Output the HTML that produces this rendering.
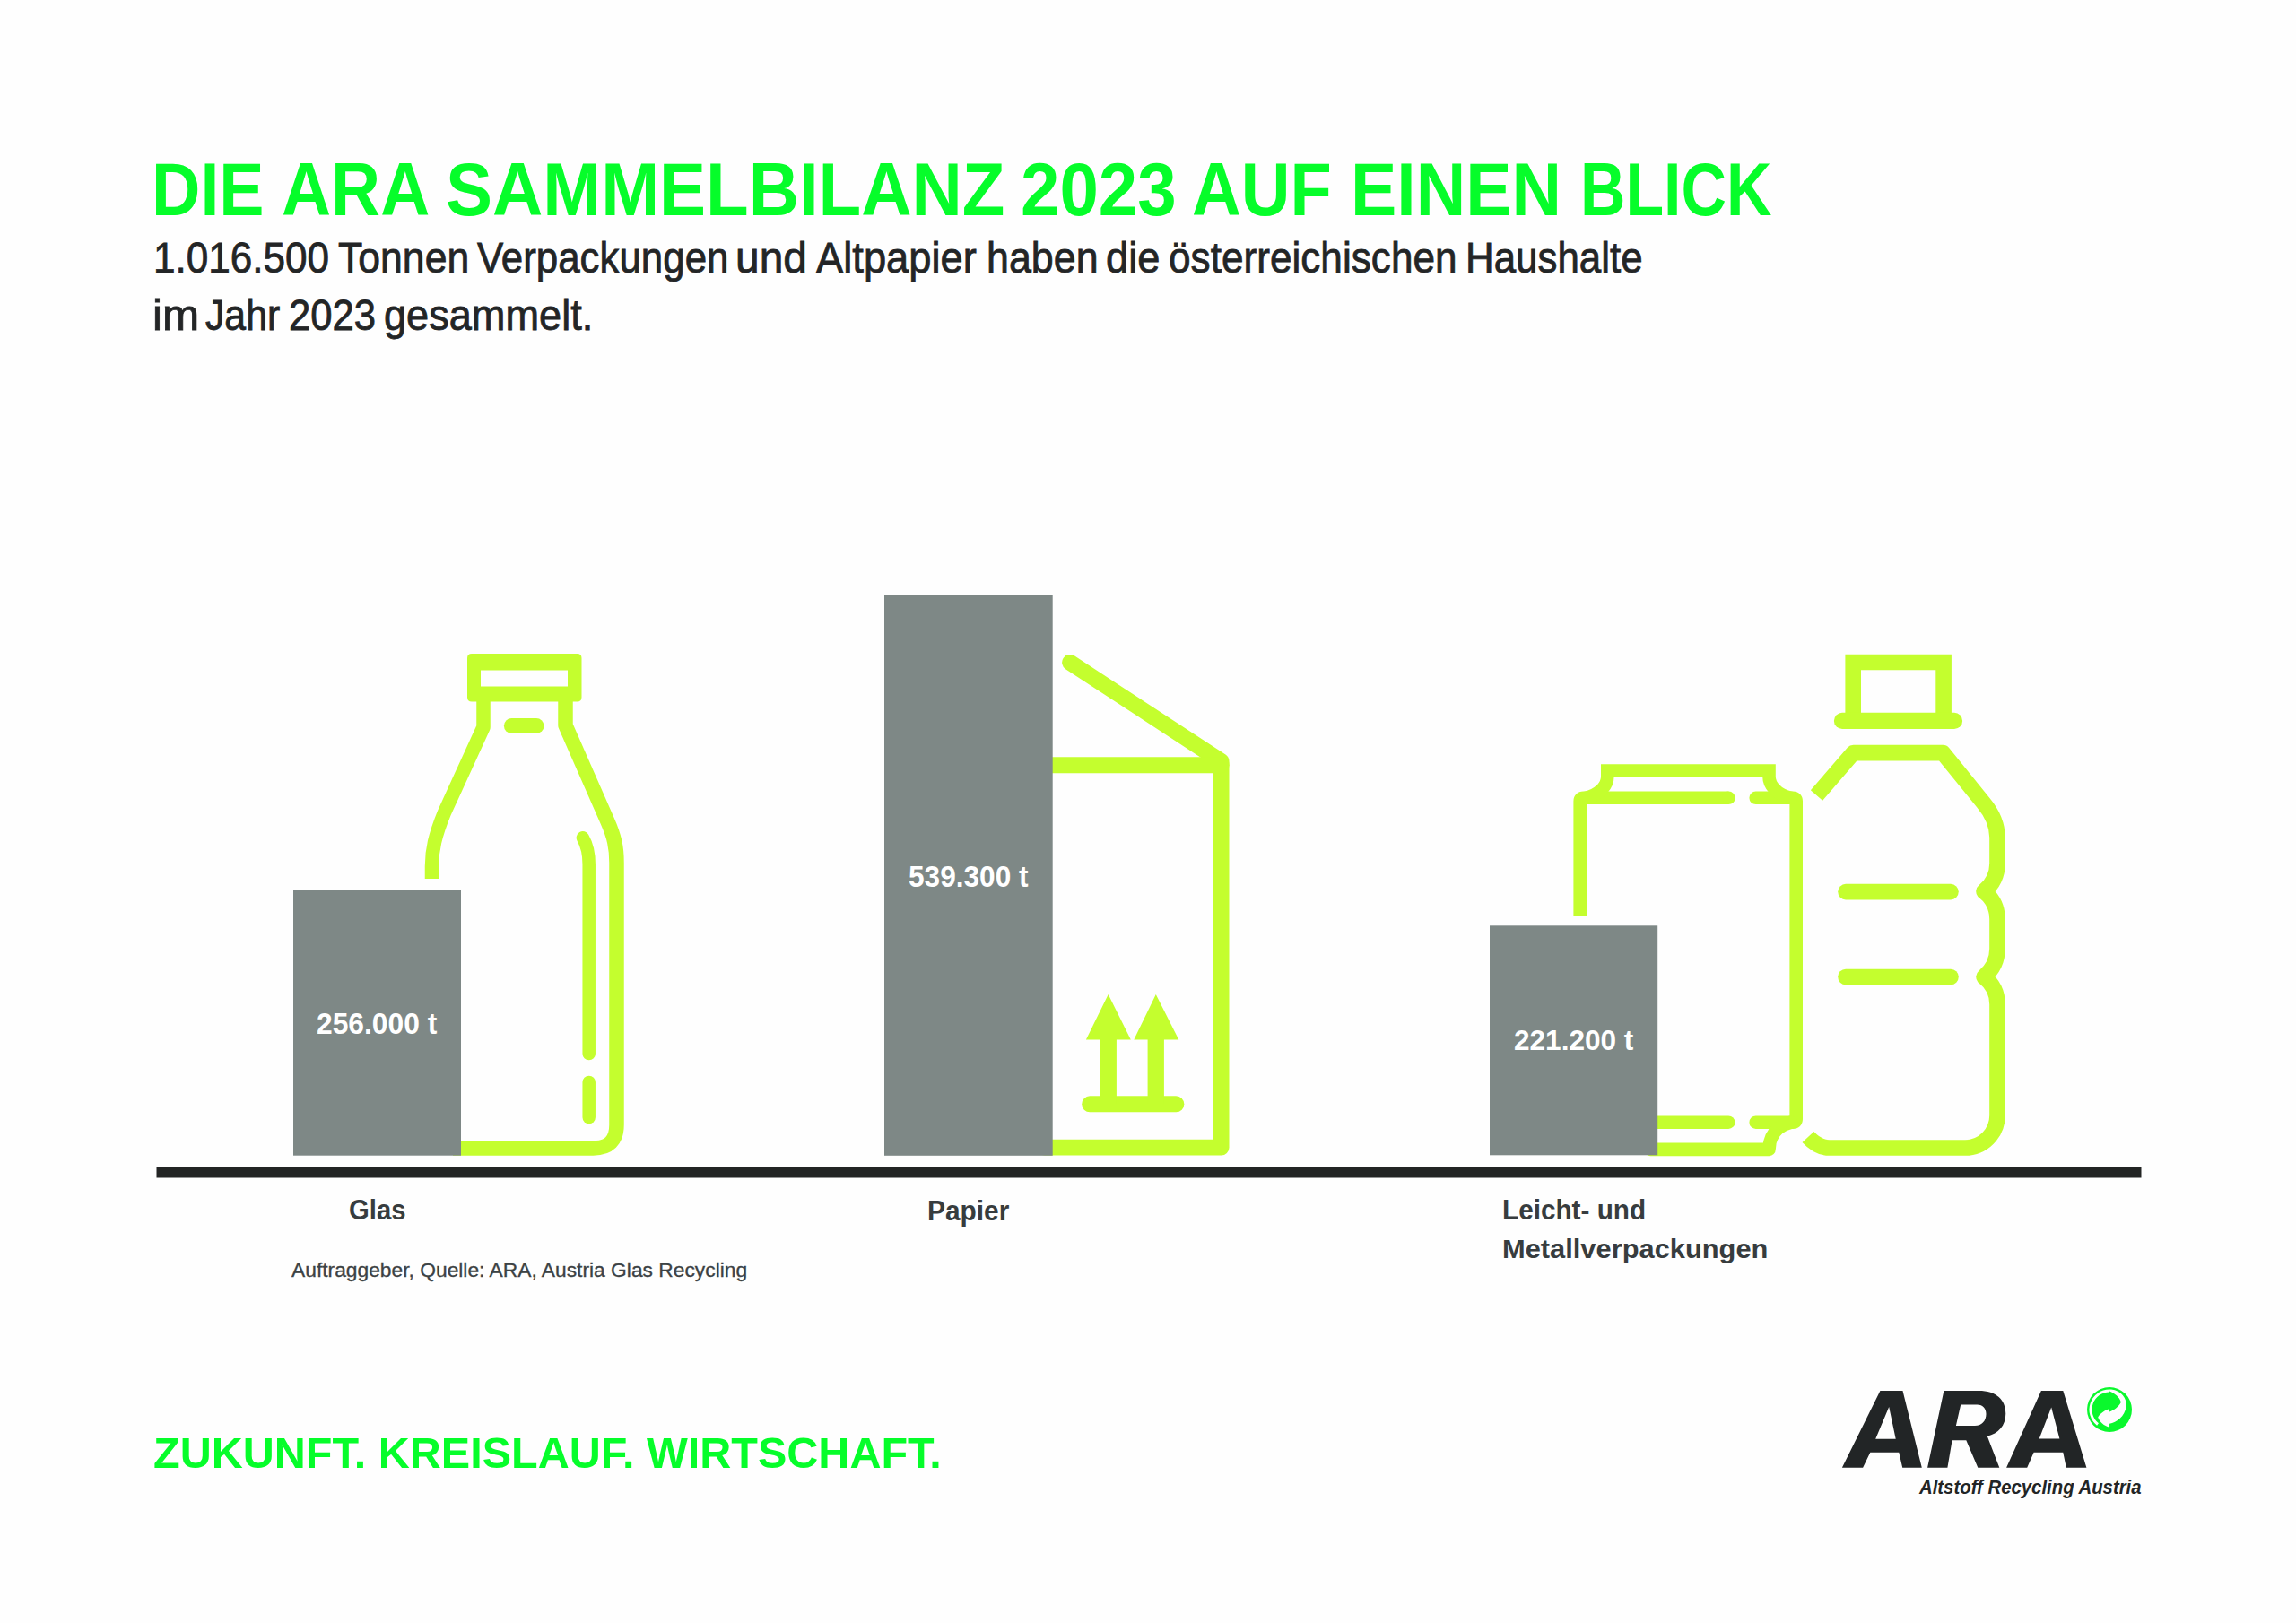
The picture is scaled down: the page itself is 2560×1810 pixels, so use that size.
<!DOCTYPE html>
<html>
<head>
<meta charset="utf-8">
<style>
html,body{margin:0;padding:0;}
body{width:2560px;height:1810px;background:#fefefe;position:relative;overflow:hidden;font-family:"Liberation Sans",sans-serif;}
.t{position:absolute;white-space:pre;transform-origin:0 0;line-height:1;}
svg{position:absolute;left:0;top:0;}
.s1{top:263.9px;font-size:47.2px;color:#232526;-webkit-text-stroke:0.8px #232526;}
.s2{top:327.9px;font-size:47.2px;color:#232526;-webkit-text-stroke:0.8px #232526;}
.tt{top:170px;font-size:83.33px;font-weight:bold;color:#06fd2a;}
</style>
</head>
<body>
<svg width="2560" height="1810" viewBox="0 0 2560 1810">
<!-- black baseline -->
<rect x="174.5" y="1301.3" width="2213" height="12.2" fill="#232524"/>

<g fill="none" stroke="#c4fe2e" stroke-linecap="round" stroke-linejoin="round">
<!-- ===== Glass bottle ===== -->
<path d="M521,734 Q521,729 526,729 L643.5,729 Q648.5,729 648.5,734 L648.5,777.5 Q648.5,782.5 643.5,782.5 L526,782.5 Q521,782.5 521,777.5 Z M536,747.5 L536,765.5 L633,765.5 L633,747.5 Z" fill="#c4fe2e" stroke="none" fill-rule="evenodd"/>
<path d="M481.5,980 L481.5,966 C481.5,948 485,932 495.3,906.6 L539,811 L539,780" stroke-width="15.5" stroke-linecap="butt"/>
<path d="M630.5,780 L630.5,809 L677,915 C685,933 687.5,945 687.5,962 L687.5,1254.5 Q687.5,1280.5 661.5,1280.5 L505,1280.5" stroke-width="16.5" stroke-linecap="butt"/>
<path d="M570.4,809.6 L598,809.6" stroke-width="17"/>
<path d="M649.9,934.3 Q656.7,946 656.7,964 L656.7,1175" stroke-width="14.5"/>
<path d="M656.7,1207 L656.7,1246" stroke-width="14.5"/>

<!-- ===== Paper box ===== -->
<path d="M1193,738.8 L1361.6,849 L1361.6,1279.7 L1165,1279.7" stroke-width="17.8"/>
<path d="M1165,853.2 L1361.6,853.2" stroke-width="18"/>
<path d="M1215.2,1231.3 L1311.3,1231.3" stroke-width="18"/>
<path d="M1235.7,1109.1 L1260.8,1159.4 L1244.9,1159.4 L1244.9,1231 L1226.5,1231 L1226.5,1159.4 L1210.9,1159.4 Z" fill="#c4fe2e" stroke="none"/>
<path d="M1288.8,1109.1 L1314.3,1159.4 L1297.9,1159.4 L1297.9,1231 L1279.6,1231 L1279.6,1159.4 L1264.3,1159.4 Z" fill="#c4fe2e" stroke="none"/>

<!-- ===== Can ===== -->
<path d="M1761.7,1021 L1761.7,893.5 Q1761.7,889.8 1765.4,889.8 L1927.4,889.8" stroke-width="14.6" stroke-linecap="butt"/>
<path d="M1927.4,889.8 L1927.4,889.8" stroke-width="14.6"/>
<path d="M1957.7,889.8 L1999,889.8 Q2002.7,889.8 2002.7,893.5 L2002.7,1248 Q2002.7,1251.7 1999,1251.7 L1957.7,1251.7" stroke-width="14.6"/>
<path d="M1840,1251.7 L1927.2,1251.7" stroke-width="14.6"/>
<path d="M1768,889.8 C1785,886 1792.3,875 1792.3,866 L1792.3,859.6 L1972.5,859.6 L1972.5,866 C1972.5,875 1980,886 1997,889.8" stroke-width="14.6" stroke-linejoin="miter"/>
<path d="M1840,1281.9 L1972.5,1281.9 C1972.5,1268 1980,1256 1997,1251.7" stroke-width="14.6"/>

<!-- ===== PET bottle ===== -->
<path d="M2066.2,803.6 L2066.2,738.5 L2167.1,738.5 L2167.1,803.6" stroke-width="17.6" stroke-linejoin="miter"/>
<path d="M2054,803.9 L2179,803.9" stroke-width="18.3"/>
<path d="M2025.5,887 L2066.5,839.6 L2166.3,839.6 L2211,894.7 Q2227,913.7 2227,934 L2227,963 Q2227,982 2212,994.2 Q2227,1006 2227,1025 L2227,1058 Q2227,1077 2212,1089.5 Q2227,1101 2227,1120 L2227,1244 A36,36 0 0 1 2191,1280 L2040,1280 Q2027,1280 2016,1268" stroke-width="17.6" stroke-linecap="butt"/>
<path d="M2058,994.6 L2175,994.6" stroke-width="17.6"/>
<path d="M2058,1089.5 L2175,1089.5" stroke-width="17.6"/>
</g>

<!-- bars -->
<rect x="327" y="992.7" width="187" height="296" fill="#7e8886"/>
<rect x="986" y="663" width="187.7" height="625.8" fill="#7e8886"/>
<rect x="1661" y="1032.3" width="187.2" height="256" fill="#7e8886"/>

<!-- ARA logo -->
<g fill="#222526">
<path d="M2053.9,1636.7 L2096.4,1551.1 L2121.5,1551.1 L2142.8,1636.7 L2121.2,1636.7 L2117.3,1619.7 L2085.3,1619.7 L2077.1,1636.7 Z M2091.2,1604.7 L2113.7,1604.7 L2106.2,1569.1 Z" fill-rule="evenodd"/>
<path d="M2149.1,1636.7 L2167.4,1550.9 L2206.2,1550.9 C2226,1550.9 2236.3,1561 2236.3,1576.6 C2236.3,1590 2228,1599 2215.8,1601.8 L2229.3,1636.7 L2205.3,1636.7 L2192.3,1606.2 L2176.6,1606.2 L2171.4,1636.7 Z M2186.2,1566.6 L2204.5,1566.6 C2211,1566.6 2214.5,1571 2214.5,1577 C2214.5,1585 2209,1590.1 2202,1590.1 L2180.9,1590.1 Z" fill-rule="evenodd"/>
<path d="M2237.1,1636.7 L2275.9,1550.9 L2300.3,1550.9 L2326.4,1636.7 L2303.8,1636.7 L2300.3,1619.7 L2267.6,1619.7 L2260.2,1636.7 Z M2273.7,1604.5 L2296.4,1604.5 L2287.2,1569.6 Z" fill-rule="evenodd"/>
</g>
<!-- green dot -->
<g transform="translate(2352,1572)">
<circle cx="0" cy="0" r="25" fill="#0af82d"/>
<path d="M0,-21 A21,21 0 0 0 -13,16.5" fill="none" stroke="#fefefe" stroke-width="3"/>
<path d="M0.04,-20.4 C6,-18 11,-14 12.85,-8.37 C10,-3 5,0.5 0.04,2.44 L0.04,-0.76 C-5,0.5 -10,4 -12.8,8.45 C-11,14 -6,18 0.04,19.66 L0.04,15.66 C8,14.5 17,8 18.86,-3.97 C19.5,-12 13,-21.5 2,-22.4 L0.04,-22.4 Z" fill="#fefefe"/>
</g>
</svg>

<div class="t tt" style="left:168.6px;transform:scaleX(0.9038)">DIE</div>
<div class="t tt" style="left:313.7px;transform:scaleX(0.9153)">ARA</div>
<div class="t tt" style="left:496.7px;transform:scaleX(0.9351)">SAMMELBILANZ</div>
<div class="t tt" style="left:1137.7px;transform:scaleX(0.9363)">2023</div>
<div class="t tt" style="left:1329.2px;transform:scaleX(0.9096)">AUF</div>
<div class="t tt" style="left:1505.5px;transform:scaleX(0.9230)">EINEN</div>
<div class="t tt" style="left:1762.0px;transform:scaleX(0.8381)">BLICK</div>
<div class="t s1" style="left:171.3px;transform:scaleX(0.9343)">1.016.500</div>
<div class="t s1" style="left:376.7px;transform:scaleX(0.9444)">Tonnen</div>
<div class="t s1" style="left:532.2px;transform:scaleX(0.9294)">Verpackungen</div>
<div class="t s1" style="left:820.2px;transform:scaleX(1.0151)">und</div>
<div class="t s1" style="left:910.3px;transform:scaleX(0.9602)">Altpapier</div>
<div class="t s1" style="left:1099.5px;transform:scaleX(0.9496)">haben</div>
<div class="t s1" style="left:1233.2px;transform:scaleX(0.9593)">die</div>
<div class="t s1" style="left:1302.9px;transform:scaleX(0.9360)">österreichischen</div>
<div class="t s1" style="left:1633.7px;transform:scaleX(0.9301)">Haushalte</div>
<div class="t s2" style="left:170.4px;transform:scaleX(1.0455)">im</div>
<div class="t s2" style="left:229.3px;transform:scaleX(0.9056)">Jahr</div>
<div class="t s2" style="left:321.9px;transform:scaleX(0.9248)">2023</div>
<div class="t s2" style="left:428.3px;transform:scaleX(0.9563)">gesammelt.</div>


<div class="t" style="left:353.3px;top:1125.9px;font-size:32.32px;font-weight:bold;color:#fff;transform:scaleX(0.983)">256.000 t</div>
<div class="t" style="left:1013.3px;top:961.8px;font-size:32.32px;font-weight:bold;color:#fff;transform:scaleX(0.9778)">539.300 t</div>
<div class="t" style="left:1688.4px;top:1145.4px;font-size:31.3px;font-weight:bold;color:#fff;transform:scaleX(1.0084)">221.200 t</div>

<div class="t" style="left:389.2px;top:1335.4px;font-size:30.72px;font-weight:bold;color:#373c3e;transform:scaleX(0.9531)">Glas</div>
<div class="t" style="left:1034.3px;top:1335.6px;font-size:30.72px;font-weight:bold;color:#373c3e;transform:scaleX(0.9717)">Papier</div>
<div class="t" style="left:1674.7px;top:1335.1px;font-size:30.72px;font-weight:bold;color:#373c3e;transform:scaleX(0.9673)">Leicht- und</div>
<div class="t" style="left:1674.5px;top:1377.7px;font-size:30px;font-weight:bold;color:#373c3e;transform:scaleX(1.0277)">Metallverpackungen</div>
<div class="t" style="left:325.1px;top:1405.8px;font-size:21.74px;color:#3c4244;-webkit-text-stroke:0.3px #3c4244;transform:scaleX(1.0489)">Auftraggeber, Quelle: ARA, Austria Glas Recycling</div>

<div class="t" style="left:171.2px;top:1596.2px;font-size:48.99px;font-weight:bold;color:#06fd2a;transform:scaleX(0.9907)">ZUKUNFT. KREISLAUF. WIRTSCHAFT.</div>
<div class="t" style="left:2140.3px;top:1647.8px;font-size:21.59px;font-weight:bold;font-style:italic;color:#222526;transform:scaleX(0.9427)">Altstoff Recycling Austria</div>
</body>
</html>
